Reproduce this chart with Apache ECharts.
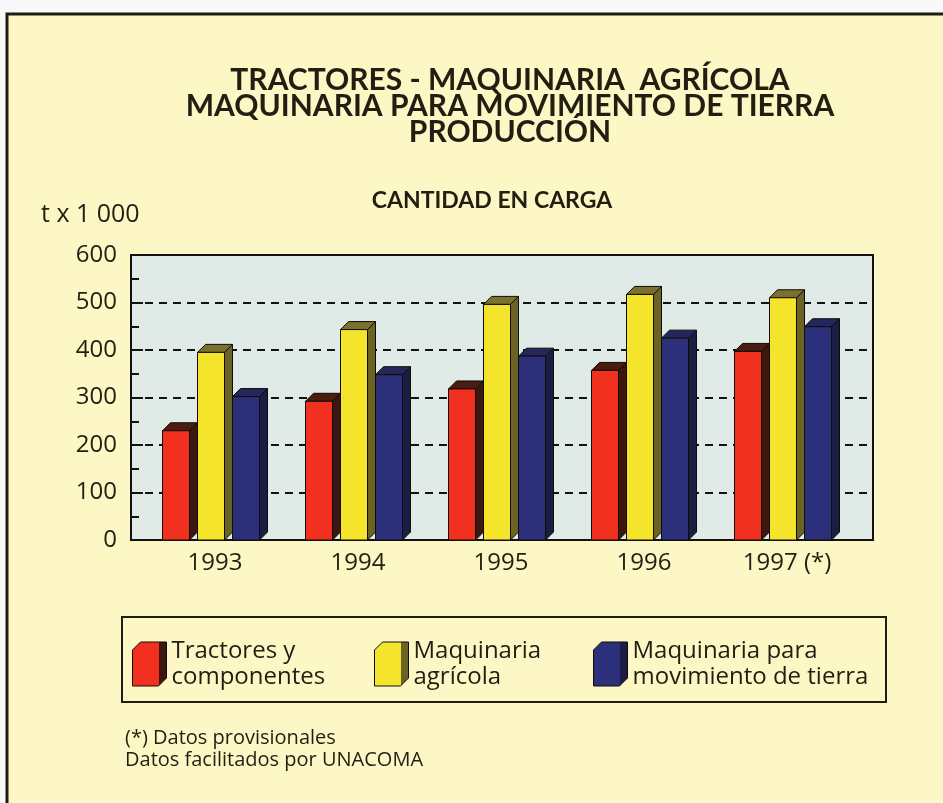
<!DOCTYPE html>
<html>
<head>
<meta charset="utf-8">
<script src="https://cdn.jsdelivr.net/npm/echarts@6/dist/echarts.min.js"></script>
<style>
  html, body { margin: 0; padding: 0; background: #f7f8f8; }
  #main { width: 943px; height: 803px; }
</style>
</head>
<body>
<div id="main"></div>
<script>
// datos (t x 1 000)
var years = ['1993', '1994', '1995', '1996', '1997 (*)'];
var tractores = [230, 292, 318, 357, 397];
var agricola = [395, 443, 496, 517, 510];
var movTierra = [302, 348, 387, 425, 449];
var yTicks = [0, 100, 200, 300, 400, 500, 600];
var names = ['Tractores y\ncomponentes', 'Maquinaria\nagrícola', 'Maquinaria para\nmovimiento de tierra'];

var fronts = ['#f2301f', '#f4e52c', '#2c2f7a'];
var sides = ['#3b1710', '#6b6326', '#1b1d44'];
var tops = ['#4a1c12', '#7a7030', '#23275c'];

var textColor = '#221e12';
var bodyFont = '"Open Sans", "DejaVu Sans", sans-serif';

var chart = echarts.init(document.getElementById('main'));

function renderBar(params, api) {
  var k = params.seriesIndex;
  var pt = api.coord([api.value(0), api.value(1)]);
  var base = api.coord([api.value(0), 0]);
  var slot = 35, w = 27, d = 8;
  var x0 = pt[0] - slot * 1.5 + k * slot;
  var x1 = x0 + w;
  var y = pt[1], yb = base[1];
  return {
    type: 'group',
    children: [
      {
        type: 'polygon',
        shape: { points: [[x1, y], [x1 + d, y - d], [x1 + d, yb - d], [x1, yb]] },
        style: { fill: sides[k], stroke: '#120c06', lineWidth: 1 }
      },
      {
        type: 'polygon',
        shape: { points: [[x0, y], [x0 + d, y - d], [x1 + d, y - d], [x1, y]] },
        style: { fill: tops[k], stroke: '#120c06', lineWidth: 1 }
      },
      {
        type: 'rect',
        shape: { x: x0, y: y, width: w, height: yb - y },
        style: { fill: fronts[k], stroke: '#120c06', lineWidth: 1 }
      }
    ]
  };
}

var cubeIcon = 'path://M0 8 L8 0 L34 0 L34 36 L26 44 L0 44 Z';

function legendItem(k, left) {
  return {
    left: left,
    top: 638,
    padding: 0,
    orient: 'horizontal',
    itemWidth: 34,
    itemHeight: 44,
    selectedMode: false,
    data: [{
      name: names[k],
      icon: cubeIcon,
      itemStyle: {
        color: {
          type: 'linear', x: 0, y: 0, x2: 1, y2: 0,
          colorStops: [
            { offset: 0, color: fronts[k] },
            { offset: 0.76, color: fronts[k] },
            { offset: 0.77, color: sides[k] },
            { offset: 1, color: sides[k] }
          ]
        },
        borderColor: '#120c06',
        borderWidth: 1
      }
    }],
    textStyle: {
      fontFamily: bodyFont,
      fontSize: 24,
      lineHeight: 26,
      color: textColor
    }
  };
}

var series = [tractores, agricola, movTierra].map(function (vals, k) {
  return {
    name: names[k],
    type: 'custom',
    xAxisIndex: 1,
    yAxisIndex: 1,
    renderItem: renderBar,
    itemStyle: { color: fronts[k] },
    data: vals.map(function (v, i) { return [i, v]; }),
    z: 5
  };
});

var option = {
  animation: false,
  graphic: [
    {
      type: 'rect',
      z: -10,
      shape: { x: 7, y: 14, width: 960, height: 820 },
      style: { fill: '#fcf7c5', stroke: '#1e1c14', lineWidth: 3 }
    },
    {
      type: 'rect',
      z: 1,
      shape: { x: 122, y: 617, width: 764, height: 85 },
      style: { fill: 'none', stroke: '#1e1c14', lineWidth: 2 }
    }
  ],
  title: [
    {
      text: 'TRACTORES - MAQUINARIA  AGRÍCOLA\nMAQUINARIA PARA MOVIMIENTO DE TIERRA\nPRODUCCIÓN',
      left: 505,
      top: 62,
      textAlign: 'center',
      textStyle: {
        fontFamily: 'Lato, "Open Sans", sans-serif',
        fontWeight: 'bold',
        fontSize: 30,
        lineHeight: 26,
        color: textColor
      }
    },
    {
      text: 'CANTIDAD EN CARGA',
      left: 487,
      top: 184,
      textAlign: 'center',
      textStyle: {
        fontFamily: 'Lato, "Open Sans", sans-serif',
        fontWeight: 'bold',
        fontSize: 23,
        color: textColor
      }
    },
    {
      text: 't x 1 000',
      left: 36,
      top: 197,
      textStyle: { fontFamily: bodyFont, fontWeight: 'normal', fontSize: 25, color: textColor }
    },
    {
      text: '(*) Datos provisionales\nDatos facilitados por UNACOMA',
      left: 120,
      top: 722,
      textStyle: { fontFamily: bodyFont, fontWeight: 'normal', fontSize: 20, lineHeight: 22, color: textColor }
    }
  ],
  legend: [legendItem(0, 132), legendItem(1, 374), legendItem(2, 593)],
  grid: [
    {
      left: 131, top: 255, width: 742, height: 285,
      show: true,
      backgroundColor: '#e0eae6',
      borderColor: '#141210',
      borderWidth: 2
    },
    {
      left: 143.5, top: 255, width: 715, height: 285,
      show: false
    }
  ],
  xAxis: [
    {
      gridIndex: 0,
      type: 'category',
      data: years,
      show: false
    },
    {
      gridIndex: 1,
      type: 'category',
      data: years,
      axisLine: { show: false },
      axisTick: { show: false },
      axisLabel: {
        margin: 11,
        fontFamily: bodyFont,
        fontSize: 24,
        color: textColor
      }
    }
  ],
  yAxis: [
    {
      gridIndex: 0,
      type: 'value',
      min: yTicks[0],
      max: yTicks[yTicks.length - 1],
      interval: 100,
      axisLine: { show: true, lineStyle: { color: '#141210', width: 2 } },
      axisTick: { show: true, inside: true, length: 12, lineStyle: { color: '#141210', width: 2 } },
      minorTick: { show: true, splitNumber: 2, length: 8, lineStyle: { color: '#141210', width: 2 } },
      splitLine: {
        show: true,
        lineStyle: { color: '#141210', width: 2, type: [8, 6] }
      },
      axisLabel: {
        margin: 14,
        fontFamily: bodyFont,
        fontSize: 24,
        color: textColor,
        verticalAlign: 'middle',
        padding: [8, 0, 0, 0]
      }
    },
    {
      gridIndex: 1,
      type: 'value',
      min: yTicks[0],
      max: yTicks[yTicks.length - 1],
      show: false,
      splitLine: { show: false }
    }
  ],
  series: series
};

chart.setOption(option);
</script>
</body>
</html>
